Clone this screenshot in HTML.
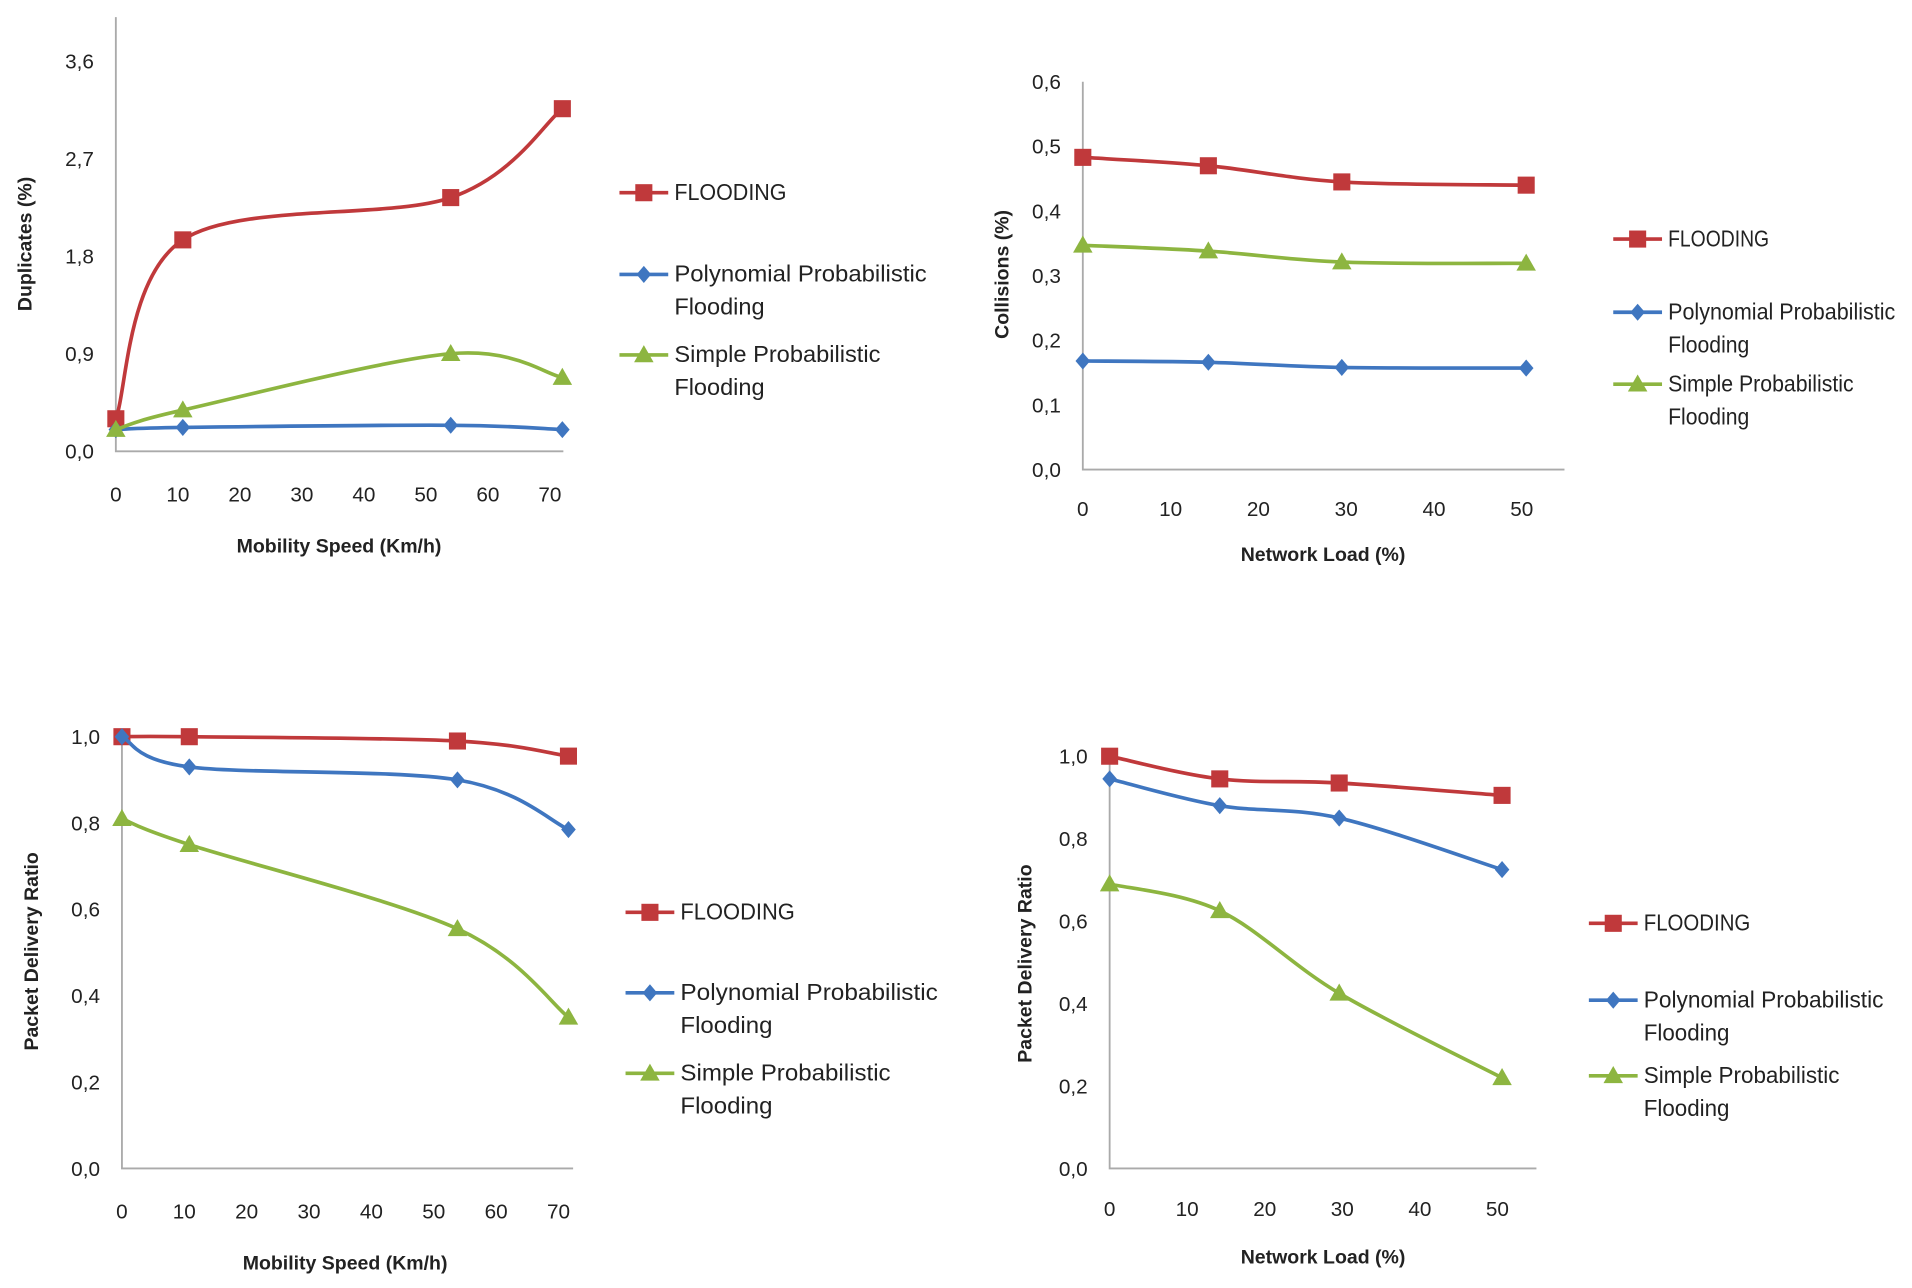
<!DOCTYPE html>
<html><head><meta charset="utf-8"><style>
html,body{margin:0;padding:0;background:#fff;}
svg{display:block;}
text{font-family:"Liberation Sans Narrow","Liberation Sans",sans-serif;fill:#222;}
</style></head><body>
<svg id="s" width="1912" height="1288" viewBox="0 0 1568 1056" preserveAspectRatio="none" xmlns="http://www.w3.org/2000/svg"></svg>
<script>
// ---- Chart 1: Duplicates vs Mobility Speed
const c1X = [0, 10.8, 54, 72];
const c1Flood = [0.30, 1.95, 2.34, 3.16];
const c1Poly = [0.20, 0.22, 0.24, 0.20];
const c1Simple = [0.20, 0.38, 0.90, 0.68];
const c1YTicks = ["0,0","0,9","1,8","2,7","3,6"];
const c1XTicks = ["0","10","20","30","40","50","60","70"];
// ---- Chart 2: Collisions vs Network Load
const c2X = [0, 14.3, 29.5, 50.5];
const c2Flood = [0.483, 0.470, 0.445, 0.440];
const c2Poly = [0.168, 0.166, 0.158, 0.157];
const c2Simple = [0.347, 0.338, 0.321, 0.319];
const c2YTicks = ["0,0","0,1","0,2","0,3","0,4","0,5","0,6"];
const c2XTicks = ["0","10","20","30","40","50"];
// ---- Chart 3: PDR vs Mobility Speed
const c3X = [0, 10.8, 53.8, 71.6];
const c3Flood = [1.0, 1.0, 0.99, 0.955];
const c3Poly = [1.0, 0.93, 0.90, 0.785];
const c3Simple = [0.81, 0.75, 0.555, 0.35];
const c3YTicks = ["0,0","0,2","0,4","0,6","0,8","1,0"];
const c3XTicks = ["0","10","20","30","40","50","60","70"];
// ---- Chart 4: PDR vs Network Load
const c4X = [0, 14.2, 29.6, 50.6];
const c4Flood = [1.0, 0.945, 0.935, 0.905];
const c4Poly = [0.945, 0.88, 0.85, 0.725];
const c4Simple = [0.69, 0.625, 0.425, 0.22];
const c4YTicks = ["0,0","0,2","0,4","0,6","0,8","1,0"];
const c4XTicks = ["0","10","20","30","40","50"];

const NS = "http://www.w3.org/2000/svg";
const svg = document.getElementById('s');
const RED="#c0393b", BLUE="#3f76c0", GREEN="#8db540";
function mk(tag, attrs, parent){const e=document.createElementNS(NS,tag);for(const k in attrs)e.setAttribute(k,attrs[k]);(parent||svg).appendChild(e);return e;}
function smooth(pts){let d="M"+pts[0][0]+","+pts[0][1];for(let i=0;i<pts.length-1;i++){const p0=pts[Math.max(0,i-1)],p1=pts[i],p2=pts[i+1],p3=pts[Math.min(pts.length-1,i+2)];const t=1/6;d+=" C"+(p1[0]+(p2[0]-p0[0])*t)+","+(p1[1]+(p2[1]-p0[1])*t)+" "+(p2[0]-(p3[0]-p1[0])*t)+","+(p2[1]-(p3[1]-p1[1])*t)+" "+p2[0]+","+p2[1];}return d;}
function marker(g,type,x,y,col){let m;
 if(type==='sq'){m=mk('rect',{x:x-7,y:y-7,width:14,height:14,fill:col},g);}
 else if(type==='di'){m=mk('polygon',{points:`${x},${y-7} ${x+6},${y} ${x},${y+7} ${x-6},${y}`,fill:col},g);}
 else {m=mk('polygon',{points:`${x},${y-8} ${x+8},${y+6} ${x-8},${y+6}`,fill:col},g);}
 return m;}
function chart(cfg){
 const g=mk('g',{});
 
 
 const xs=v=>cfg.x0+(v-0)*(cfg.x1-cfg.x0)/cfg.xmax;
 const ys=v=>cfg.y0-(v)*(cfg.y0-cfg.y1)/cfg.ymax;
 const ax=mk('path',{d:`M${cfg.x0},${cfg.axTop} L${cfg.x0},${cfg.y0} L${cfg.axEnd},${cfg.y0}`,stroke:"#aaa","stroke-width":1.5,fill:"none"},g);
 
 
 cfg.yt.forEach((t,i)=>{const v=i*cfg.ymax/(cfg.yt.length-1);const e=mk('text',{x:cfg.x0-18,y:ys(v)+6,"text-anchor":"end","font-size":17},g);e.textContent=t;
  
  });
 cfg.xt.forEach((t,i)=>{const v=i*10;const e=mk('text',{x:xs(v),y:cfg.xtY,"text-anchor":"middle","font-size":17},g);e.textContent=t;
  
  });
 const yt=mk('text',{x:0,y:0,transform:`translate(${cfg.ytX},${cfg.ytY}) rotate(-90)`,"text-anchor":"middle","font-size":16,"font-weight":"bold"},g);yt.textContent=cfg.ytitle;
 
 
 const xt=mk('text',{x:cfg.xtX,y:cfg.xtitleY,"text-anchor":"middle","font-size":16,"font-weight":"bold"},g);xt.textContent=cfg.xtitle;
 
 
 const series=[[cfg.flood,RED,'sq','flooding'],[cfg.poly,BLUE,'di','polynomial'],[cfg.simple,GREEN,'tr','simple']];
 series.forEach(([vals,col,mt,nm])=>{
  const pts=cfg.xv.map((x,i)=>[xs(x),ys(vals[i])]);
  const l=mk('path',{d:smooth(pts),stroke:col,"stroke-width":3,fill:"none"},g);
  
  
  pts.forEach(p=>{const m=marker(g,mt,p[0],p[1],col);
   
   });
 });
 const k=cfg.k;
 const leg=[["FLOODING",null,RED,'sq',92],["Polynomial Probabilistic","Flooding",BLUE,'di',207],["Simple Probabilistic","Flooding",GREEN,'tr',169]];
 leg.forEach((L,i)=>{const ly=cfg.legY[i];
  const lg=mk('g',{},g);
  
  
  mk('line',{x1:cfg.legX,y1:ly,x2:cfg.legX+40,y2:ly,stroke:L[2],"stroke-width":3},lg);
  marker(lg,L[3],cfg.legX+20,ly,L[2]);
  const t=mk('text',{x:cfg.legX+45,y:ly+6,"font-size":19,textLength:L[4]*k,lengthAdjust:"spacingAndGlyphs"},lg);t.textContent=L[0];
  if(L[1]){const t2=mk('text',{x:cfg.legX+45,y:ly+33,"font-size":19,textLength:74*k,lengthAdjust:"spacingAndGlyphs"},lg);t2.textContent=L[1];}
 });
}
chart({name:'duplicates-chart',k:1,x0:95,x1:451,xmax:70,y0:370,y1:50,ymax:3.6,axTop:14,axEnd:462,xtY:411,yt:c1YTicks,xt:c1XTicks,
 ytitle:"Duplicates (%)",ytX:26,ytY:200,xtitle:"Mobility Speed (Km/h)",xtX:278,xtitleY:453,
 xv:c1X,flood:c1Flood,poly:c1Poly,simple:c1Simple,legX:508,legY:[158,225,291]});
chart({name:'collisions-chart',k:0.9,x0:888,x1:1248,xmax:50,y0:385,y1:67,ymax:0.6,axTop:67,axEnd:1283,xtY:423,yt:c2YTicks,xt:c2XTicks,
 ytitle:"Collisions (%)",ytX:827,ytY:225,xtitle:"Network Load (%)",xtX:1085,xtitleY:460,
 xv:c2X,flood:c2Flood,poly:c2Poly,simple:c2Simple,legX:1323,legY:[196,256,315]});
chart({name:'pdr-speed-chart',k:1.02,x0:100,x1:458,xmax:70,y0:958,y1:604,ymax:1.0,axTop:600,axEnd:470,xtY:999,yt:c3YTicks,xt:c3XTicks,
 ytitle:"Packet Delivery Ratio",ytX:31,ytY:780,xtitle:"Mobility Speed (Km/h)",xtX:283,xtitleY:1041,
 xv:c3X,flood:c3Flood,poly:c3Poly,simple:c3Simple,legX:513,legY:[748,814,880]});
chart({name:'pdr-load-chart',k:0.95,x0:910,x1:1228,xmax:50,y0:958,y1:620,ymax:1.0,axTop:620,axEnd:1260,xtY:997,yt:c4YTicks,xt:c4XTicks,
 ytitle:"Packet Delivery Ratio",ytX:846,ytY:790,xtitle:"Network Load (%)",xtX:1085,xtitleY:1036,
 xv:c4X,flood:c4Flood,poly:c4Poly,simple:c4Simple,legX:1303,legY:[757,820,882]});
</script>
</body></html>
